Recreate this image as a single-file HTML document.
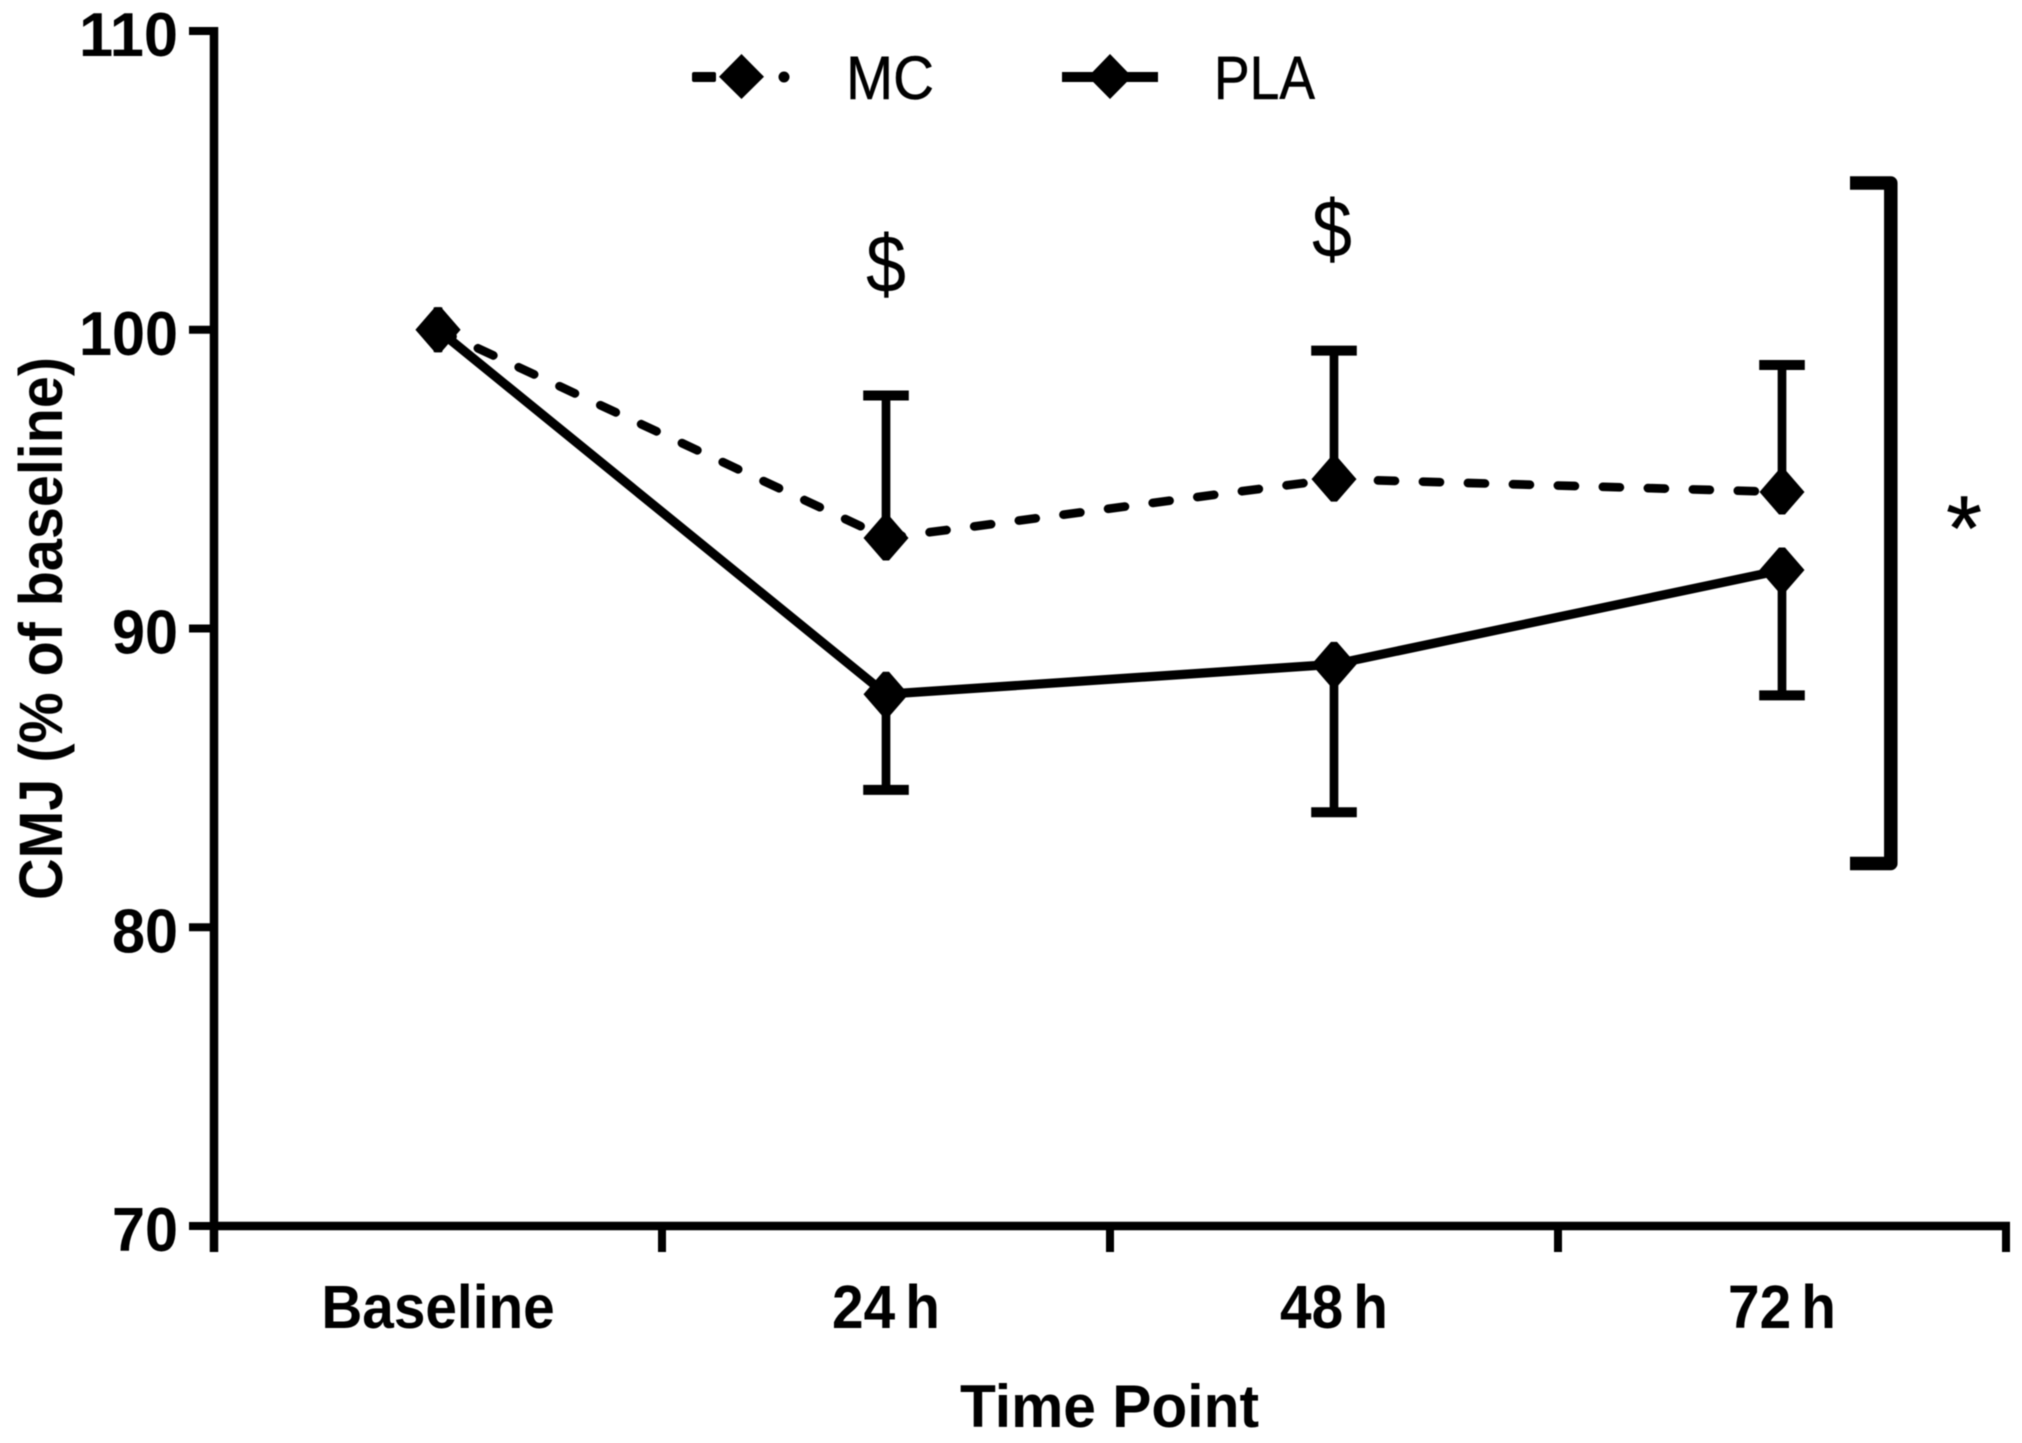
<!DOCTYPE html>
<html lang="en">
<head>
<meta charset="utf-8">
<title>CMJ (% of baseline) by time point</title>
<style>
  html, body { margin: 0; padding: 0; background: #fff; }
  #chart { display: block; width: 2022px; height: 1443px; filter: blur(0.6px); }
  text { font-family: "Liberation Sans", sans-serif; fill: #000; }
  .bold { font-weight: 700; }
  .heavy { stroke: #000; stroke-width: 0.5px; }
</style>
</head>
<body>
<svg id="chart" xmlns="http://www.w3.org/2000/svg" width="2022" height="1443" viewBox="0 0 2022 1443">
  <rect width="2022" height="1443" fill="#fff"/>
  <g id="axes"></g>
  <g id="series"></g>

  <text class="bold" font-size="61" text-anchor="middle" textLength="543" lengthAdjust="spacingAndGlyphs" transform="translate(62 628.5) rotate(-90)">CMJ (% of baseline)</text>
  <text class="bold" font-size="60" text-anchor="middle" textLength="299" lengthAdjust="spacingAndGlyphs" x="1109.5" y="1427">Time Point</text>

  <g>
    <g>
      <rect x="692" y="72" width="24" height="10" rx="2"/>
      <polygon points="741.5,54 764,76.7 741.5,99 719,76.7"/>
      <circle cx="784" cy="77" r="5.5"/>
      <text class="heavy" font-size="61" textLength="88" lengthAdjust="spacingAndGlyphs" x="846" y="99">MC</text>
    </g>
    <g>
      <rect x="1062" y="72" width="96" height="10"/>
      <polygon points="1110,54 1132,76.7 1110,99 1088,76.7"/>
      <text class="heavy" font-size="61" textLength="101" lengthAdjust="spacingAndGlyphs" x="1214" y="99">PLA</text>
    </g>
  </g>

  <text font-size="82" text-anchor="middle" textLength="40" lengthAdjust="spacingAndGlyphs" x="886" y="292">$</text>
  <text font-size="82" text-anchor="middle" textLength="40" lengthAdjust="spacingAndGlyphs" x="1332" y="257">$</text>
  <path d="M1850 183 H1890.8 V863.5 H1850" fill="none" stroke="#000" stroke-width="13.5" stroke-linejoin="round"/>
  <text class="heavy" font-size="92" text-anchor="middle" x="1964" y="560">*</text>
</svg>

<script>
const categories = ["Baseline", "24 h", "48 h", "72 h"];
const mcMeans = [100, 93.03, 95.0, 94.57];
const plaMeans = [100, 87.8, 88.8, 91.96];
const mcUpper = [100.75, 97.8, 99.3, 98.82];
const plaLower = [99.25, 84.6, 83.85, 87.76];
const yTicks = [70, 80, 90, 100, 110];
const yTickLabels = ["70", "80", "90", "100", "110"];

const SVG_NS = "http://www.w3.org/2000/svg";
const plotLeft = 214;
const plotRight = 2006;
const plotBottom = 1226;
const pxPerUnit = 29.875;
const yMin = 70;
const markerW = 22.5;
const markerH = 22.5;
const markerFlat = 3;

function yScale(v) { return plotBottom - (v - yMin) * pxPerUnit; }
function bandWidth() { return (plotRight - plotLeft) / categories.length; }
function xEdge(i) { return plotLeft + i * bandWidth(); }
function xScale(i) { return xEdge(i) + bandWidth() / 2; }

function make(tag, parent, attrs) {
  const el = document.createElementNS(SVG_NS, tag);
  for (const k in attrs) el.setAttribute(k, attrs[k]);
  parent.appendChild(el);
  return el;
}

const axes = document.getElementById("axes");
const series = document.getElementById("series");

/* y axis */
const yLine = make("line", axes, { x1: plotLeft, x2: plotLeft, y1: yScale(110) - 4, y2: plotBottom + 26, stroke: "#000", "stroke-width": 8.5 });



yTicks.forEach(function (t, i) {
  const tick = make("line", axes, { x1: 189, x2: plotLeft, y1: yScale(t), y2: yScale(t), stroke: "#000", "stroke-width": 8 });
  
  
  const label = make("text", axes, { x: 178, y: yScale(t) + 25, "text-anchor": "end", "font-size": 62, class: "bold", lengthAdjust: "spacingAndGlyphs" });
  label.textContent = yTickLabels[i];
  label.setAttribute('textLength', 33 * yTickLabels[i].length);
  
  
});

/* x axis */
const xLine = make("line", axes, { x1: plotLeft - 4, x2: plotRight + 4, y1: plotBottom, y2: plotBottom, stroke: "#000", "stroke-width": 8.5 });



for (let i = 0; i <= categories.length; i++) {
  const tick = make("line", axes, { x1: xEdge(i), x2: xEdge(i), y1: plotBottom, y2: plotBottom + 26, stroke: "#000", "stroke-width": 8 });
  
  
}

categories.forEach(function (c, i) {
  const label = make("text", axes, { x: xScale(i), y: 1328, "text-anchor": "middle", "font-size": 61, "word-spacing": -6, class: "bold", lengthAdjust: "spacingAndGlyphs" });
  label.textContent = c;
  label.setAttribute('textLength', label.getComputedTextLength() * 0.93);
  
  
});

/* MC dashed line: one path per segment so the dash phase restarts at each point */
for (let i = 0; i < mcMeans.length - 1; i++) {
  const seg = make("line", series, {
    x1: xScale(i), y1: yScale(mcMeans[i]), x2: xScale(i + 1), y2: yScale(mcMeans[i + 1]),
    stroke: "#000", "stroke-width": 8.7, "stroke-linecap": "round",
    "stroke-dasharray": "17 28", "stroke-dashoffset": 1
  });
  
  
}

/* PLA solid line */
const plaLine = make("polyline", series, {
  points: plaMeans.map(function (v, i) { return xScale(i) + "," + yScale(v); }).join(" "),
  fill: "none", stroke: "#000", "stroke-width": 9.2
});



/* error bars */
function errorBar(i, mean, limit, name) {
  const x = xScale(i);
  const stem = make("line", series, { x1: x, x2: x, y1: yScale(mean), y2: yScale(limit), stroke: "#000", "stroke-width": 8.7 });
  
  
  if (Math.abs(yScale(limit) - yScale(mean)) > markerH + 4) {
    const cap = make("line", series, { x1: x - 22.8, x2: x + 22.8, y1: yScale(limit), y2: yScale(limit), stroke: "#000", "stroke-width": 10 });
    
    
  }
}
mcMeans.forEach(function (v, i) { errorBar(i, v, mcUpper[i], "mc"); });
plaMeans.forEach(function (v, i) { errorBar(i, v, plaLower[i], "pla"); });

/* markers */
function marker(i, v, name) {
  const x = xScale(i), y = yScale(v);
  const m = make("polygon", series, {
    points: [x - markerFlat, y - markerH, x + markerFlat, y - markerH, x + markerW, y, x + markerFlat, y + markerH, x - markerFlat, y + markerH, x - markerW, y].join(" "),
    fill: "#000"
  });
  
  
}
mcMeans.forEach(function (v, i) { marker(i, v, "mc"); });
plaMeans.forEach(function (v, i) { marker(i, v, "pla"); });
</script>
</body>
</html>
